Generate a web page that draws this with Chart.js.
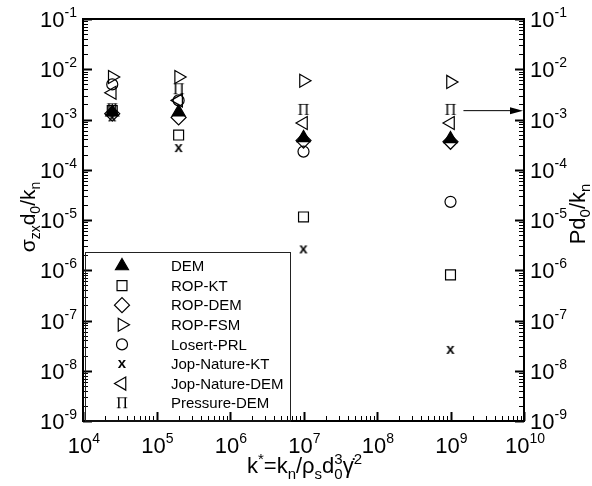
<!DOCTYPE html>
<html>
<head>
<meta charset="utf-8">
<script src="https://cdn.jsdelivr.net/npm/chart.js@4.4.0/dist/chart.umd.min.js"></script>
<style>
  html, body { margin: 0; padding: 0; background: #fff; }
  canvas { display: block; }
</style>
</head>
<body>
<canvas id="chart" width="592" height="486"></canvas>
<script>
// stiffness values k* (x axis)
var kValues = [2.5e4, 2e5, 1e7, 1e9];

// sigma_zx d0/kn for each series
var demVals        = [1.4e-3, 1.4e-3, 4.3e-4, 4.1e-4];
var ropKtVals      = [1.5e-3, 4.9e-4, 1.15e-5, 8.1e-7];
var ropDemVals     = [1.3e-3, 1.1e-3, 3.8e-4, 3.6e-4];
var ropFsmVals     = [7.0e-3, 7.0e-3, 5.9e-3, 5.6e-3];
var losertVals     = [5.0e-3, 2.4e-3, 2.3e-4, 2.3e-5];
var jopKtVals      = [1.1e-3, 2.7e-4, 2.6e-6, 2.6e-8];
var jopDemVals     = [3.4e-3, 2.4e-3, 8.5e-4, 8.5e-4];
var pressureVals   = [1.6e-3, 4.0e-3, 1.55e-3, 1.55e-3];

var seriesNames = ['DEM', 'ROP-KT', 'ROP-DEM', 'ROP-FSM', 'Losert-PRL',
                   'Jop-Nature-KT', 'Jop-Nature-DEM', 'Pressure-DEM'];

// tick labels are 10^exp
var xTickExps = [4, 5, 6, 7, 8, 9, 10];
var yTickExps = [-9, -8, -7, -6, -5, -4, -3, -2, -1];

// arrow from the Pressure-DEM point to the right (Pd0/kn) axis
var arrowFrom = [1.5e9, 1.5e-3];
var arrowTo   = [1e10, 1.5e-3];

var FONT = '"Liberation Sans", Arial, Helvetica, sans-serif';

// little canvases used as glyph markers
function glyphMarker(ch, font, w, h, base) {
    var c = document.createElement('canvas');
    c.width = w; c.height = h;
    var g = c.getContext('2d');
    g.font = font;
    g.fillStyle = '#000';
    g.textAlign = 'center';
    g.textBaseline = 'alphabetic';
    g.fillText(ch, w / 2, base);
    return c;
}
var xMarker  = glyphMarker('x', 'bold 15px ' + FONT, 12, 14, 11);
var piMarker = glyphMarker('\u03A0', '16px "Liberation Serif", "Times New Roman", serif', 14, 16, 13);

var styles = [
    { pointStyle: 'triangle', radius: 7.5, rotation: 0,   fill: '#000' },
    { pointStyle: 'rect',     radius: 7,   rotation: 0,   fill: 'rgba(0,0,0,0)' },
    { pointStyle: 'rectRot',  radius: 7.5, rotation: 0,   fill: 'rgba(0,0,0,0)' },
    { pointStyle: 'triangle', radius: 7.5, rotation: 90,  fill: 'rgba(0,0,0,0)' },
    { pointStyle: 'circle',   radius: 5.5, rotation: 0,   fill: 'rgba(0,0,0,0)' },
    { pointStyle: xMarker,    radius: 6,   rotation: 0,   fill: 'rgba(0,0,0,0)' },
    { pointStyle: 'triangle', radius: 7.5, rotation: -90, fill: 'rgba(0,0,0,0)' },
    { pointStyle: piMarker,   radius: 6,   rotation: 0,   fill: 'rgba(0,0,0,0)' }
];
var seriesVals = [demVals, ropKtVals, ropDemVals, ropFsmVals, losertVals,
                  jopKtVals, jopDemVals, pressureVals];

var datasets = seriesNames.map(function (name, i) {
    return {
        label: name,
        data: kValues.map(function (k, j) { return { x: k, y: seriesVals[i][j] }; }),
        showLine: false,
        pointStyle: styles[i].pointStyle,
        pointRadius: styles[i].radius,
        pointRotation: styles[i].rotation,
        pointBackgroundColor: styles[i].fill,
        pointBorderColor: '#000',
        pointBorderWidth: 1.2,
        yAxisID: 'y'
    };
});

// draw mixed normal / sub / sup text; kind 0 normal, 1 sub, 2 sup, 3 stacked [sub, sup]
function richWidth(ctx, parts, big, small) {
    var w = 0;
    parts.forEach(function (p) {
        if (p[1] === 0) { ctx.font = big + 'px ' + FONT; w += ctx.measureText(p[0]).width; }
        else if (p[1] === 3) {
            ctx.font = small + 'px ' + FONT;
            w += Math.max(ctx.measureText(p[0][0]).width, ctx.measureText(p[0][1]).width);
        } else { ctx.font = small + 'px ' + FONT; w += ctx.measureText(p[0]).width; }
    });
    return w;
}
function drawRich(ctx, parts, x, y, big, small, subDy, supDy) {
    ctx.textAlign = 'left';
    ctx.textBaseline = 'alphabetic';
    parts.forEach(function (p) {
        if (p[1] === 0) {
            ctx.font = big + 'px ' + FONT;
            ctx.fillText(p[0], x, y);
            x += ctx.measureText(p[0]).width;
        } else if (p[1] === 3) {
            ctx.font = small + 'px ' + FONT;
            ctx.fillText(p[0][0], x, y + subDy);
            ctx.fillText(p[0][1], x, y + supDy);
            x += Math.max(ctx.measureText(p[0][0]).width, ctx.measureText(p[0][1]).width);
        } else {
            ctx.font = small + 'px ' + FONT;
            ctx.fillText(p[0], x, y + (p[1] === 1 ? subDy : supDy));
            x += ctx.measureText(p[0]).width;
        }
    });
}

var framePlugin = {
    id: 'frame',
    afterDraw: function (chart) {
        var ctx = chart.ctx;
        var a = chart.chartArea;
        var xs = chart.scales.x, ys = chart.scales.y, ys2 = chart.scales.y2;
        ctx.save();
        ctx.fillStyle = '#000';
        ctx.strokeStyle = '#000';

        // inward tick marks
        var e, k, v, p, major;
        for (e = xTickExps[0]; e <= xTickExps[xTickExps.length - 1]; e++) {
            for (k = 1; k <= 9; k++) {
                v = k * Math.pow(10, e);
                if (v > xs.max * 1.0001) break;
                p = Math.round(xs.getPixelForValue(v)) + 0.5;
                major = k === 1;
                ctx.lineWidth = major ? 2 : 1;
                ctx.beginPath();
                ctx.moveTo(p, a.bottom);
                ctx.lineTo(p, a.bottom - (major ? 9 : 5));
                ctx.stroke();
            }
        }
        for (e = yTickExps[0]; e <= yTickExps[yTickExps.length - 1]; e++) {
            for (k = 1; k <= 9; k++) {
                v = k * Math.pow(10, e);
                if (v > ys.max * 1.0001) break;
                p = Math.round(ys.getPixelForValue(v)) + 0.5;
                major = k === 1;
                ctx.lineWidth = major ? 2 : 1;
                ctx.beginPath();
                ctx.moveTo(a.left, p);
                ctx.lineTo(a.left + (major ? 9 : 5), p);
                ctx.moveTo(a.right, p);
                ctx.lineTo(a.right - (major ? 9 : 5), p);
                ctx.stroke();
            }
        }

        // frame
        ctx.lineWidth = 2;
        ctx.strokeRect(a.left, a.top, a.right - a.left, a.bottom - a.top);

        // tick labels
        xTickExps.forEach(function (ex) {
            var parts = [['10', 0], [String(ex), 2]];
            var w = richWidth(ctx, parts, 22, 14);
            drawRich(ctx, parts, xs.getPixelForValue(Math.pow(10, ex)) - w / 2 + 1, 453, 22, 14, 5, -10);
        });
        yTickExps.forEach(function (ex) {
            var parts = [['10', 0], [String(ex), 2]];
            var w = richWidth(ctx, parts, 22, 14);
            var py = ys.getPixelForValue(Math.pow(10, ex)) + 8;
            drawRich(ctx, parts, a.left - 6 - w, py, 22, 14, 5, -10);
            drawRich(ctx, parts, a.right + 6, ys2.getPixelForValue(Math.pow(10, ex)) + 8, 22, 14, 5, -10);
        });

        // axis titles
        var xt = [['k', 0], ['*', 2], ['=k', 0], ['n', 1], ['/\u03C1', 0], ['s', 1],
                  ['d', 0], [['0', '3'], 3], ['\u03B3\u0307', 0], ['2', 2]];
        var w = richWidth(ctx, xt, 22, 15);
        drawRich(ctx, xt, (a.left + a.right) / 2 - w / 2 + 1, 473, 22, 15, 6, -9);

        var lt = [['\u03C3', 0], ['zx', 1], ['d', 0], ['0', 1], ['/k', 0], ['n', 1]];
        w = richWidth(ctx, lt, 21, 14);
        ctx.save();
        ctx.translate(35, 217);
        ctx.rotate(-Math.PI / 2);
        drawRich(ctx, lt, -w / 2, 0, 21, 14, 5, -9);
        ctx.restore();

        var rt = [['Pd', 0], ['0', 1], ['/k', 0], ['n', 1]];
        w = richWidth(ctx, rt, 22, 15);
        ctx.save();
        ctx.translate(585, 214);
        ctx.rotate(-Math.PI / 2);
        drawRich(ctx, rt, -w / 2, 0, 22, 15, 5, -9);
        ctx.restore();

        // arrow
        var x1 = xs.getPixelForValue(arrowFrom[0]), y1 = ys.getPixelForValue(arrowFrom[1]);
        var x2 = xs.getPixelForValue(arrowTo[0]) - 1, y2 = ys.getPixelForValue(arrowTo[1]);
        ctx.lineWidth = 1;
        ctx.beginPath();
        ctx.moveTo(x1, y1);
        ctx.lineTo(x2 - 10, y2);
        ctx.stroke();
        ctx.beginPath();
        ctx.moveTo(x2, y2);
        ctx.lineTo(x2 - 13, y2 - 3.5);
        ctx.lineTo(x2 - 13, y2 + 3.5);
        ctx.closePath();
        ctx.fill();

        // legend box
        ctx.lineWidth = 1;
        ctx.strokeStyle = '#222';
        ctx.strokeRect(85.5, 252.5, 205, a.bottom - 252.5);
        ctx.strokeStyle = '#000';
        seriesNames.forEach(function (name, i) {
            var ly = 266 + i * 19.6;
            ctx.fillStyle = styles[i].fill;
            ctx.lineWidth = 1.2;
            Chart.helpers.drawPoint(ctx, {
                pointStyle: styles[i].pointStyle,
                radius: styles[i].radius,
                rotation: styles[i].rotation,
                borderWidth: 1.2
            }, 122, ly);
            ctx.fillStyle = '#000';
            ctx.font = '15px ' + FONT;
            ctx.textAlign = 'left';
            ctx.textBaseline = 'middle';
            ctx.fillText(name, 171, ly + 1);
        });
        ctx.restore();
    }
};

var ctx = document.getElementById('chart').getContext('2d');
var chart = new Chart(ctx, {
    type: 'scatter',
    data: { datasets: datasets },
    options: {
        responsive: false,
        animation: false,
        layout: { padding: { top: 19, left: 0, right: 0, bottom: 0 } },
        plugins: {
            legend: { display: false },
            tooltip: { enabled: false }
        },
        scales: {
            x: {
                type: 'logarithmic', position: 'bottom', min: 1e4, max: 1e10,
                ticks: { display: false }, grid: { display: false }, border: { display: false },
                afterFit: function (s) { s.height = 65; }
            },
            y: {
                type: 'logarithmic', position: 'left', min: 1e-9, max: 1e-1,
                ticks: { display: false }, grid: { display: false }, border: { display: false },
                afterFit: function (s) { s.width = 83; }
            },
            y2: {
                type: 'logarithmic', position: 'right', min: 1e-9, max: 1e-1,
                ticks: { display: false }, grid: { display: false }, border: { display: false },
                afterFit: function (s) { s.width = 68; }
            }
        }
    },
    plugins: [framePlugin]
});
</script>
</body>
</html>
